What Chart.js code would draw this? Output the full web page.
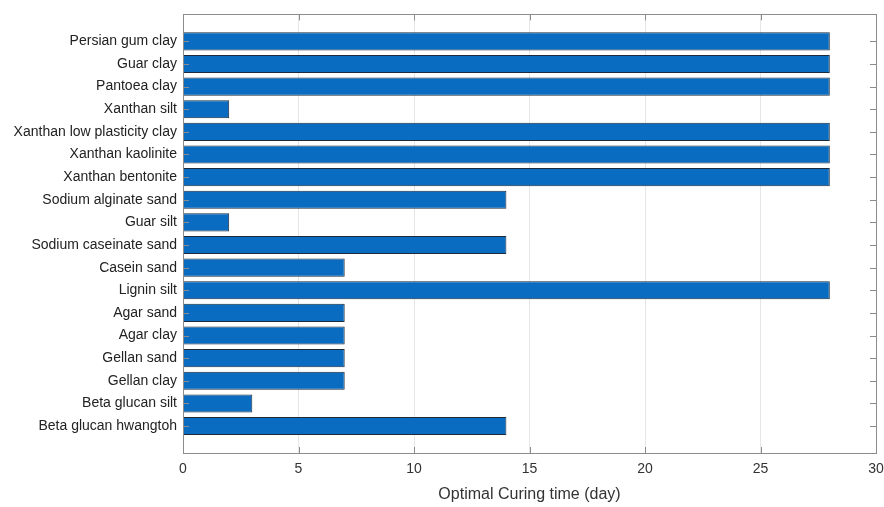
<!DOCTYPE html>
<html>
<head>
<meta charset="utf-8">
<script src="https://cdn.jsdelivr.net/npm/chart.js@4.4.0/dist/chart.umd.min.js"></script>
<style>
  html, body { margin: 0; padding: 0; background: #fff; }
  #wrap { width: 884px; height: 507px; }
</style>
</head>
<body>
<div id="wrap"><canvas id="curingChart" width="884" height="507"></canvas></div>
<script>
// Optimal curing time per biopolymer / soil pair
const categories = [
    'Persian gum clay', 'Guar clay', 'Pantoea clay', 'Xanthan silt',
    'Xanthan low plasticity clay', 'Xanthan kaolinite', 'Xanthan bentonite',
    'Sodium alginate sand', 'Guar silt', 'Sodium caseinate sand', 'Casein sand',
    'Lignin silt', 'Agar sand', 'Agar clay', 'Gellan sand', 'Gellan clay',
    'Beta glucan silt', 'Beta glucan hwangtoh'
];
const curingDays = [28, 28, 28, 2, 28, 28, 28, 14, 2, 14, 7, 28, 7, 7, 7, 7, 3, 14];
const xTicks = [0, 5, 10, 15, 20, 25, 30];

const FONT = "'Liberation Sans', Arial, sans-serif";
const AXIS_GREY = '#8c8c8c';

// MATLAB style box with inward tick marks
const boxPlugin = {
    id: 'boxPlugin',
    afterDatasetsDraw(chart) {
        const { ctx, chartArea: a, scales } = chart;
        ctx.save();
        ctx.strokeStyle = AXIS_GREY;
        ctx.lineWidth = 1;
        ctx.beginPath();
        xTicks.forEach(t => {
            const x = Math.round(scales.x.getPixelForValue(t)) + 0.5;
            ctx.moveTo(x, a.bottom); ctx.lineTo(x, a.bottom - 6);
            ctx.moveTo(x, a.top); ctx.lineTo(x, a.top + 6);
        });
        categories.forEach((c, i) => {
            const y = Math.round(scales.y.getPixelForValue(i + 1)) + 0.5;
            ctx.moveTo(a.left, y); ctx.lineTo(a.left + 6, y);
            ctx.moveTo(a.right, y); ctx.lineTo(a.right - 6, y);
        });
        ctx.stroke();
        ctx.strokeRect(Math.round(a.left) + 0.5, Math.round(a.top) + 0.5,
            Math.round(a.right - a.left), Math.round(a.bottom - a.top));
        ctx.restore();
    }
};

document.addEventListener('DOMContentLoaded', function() {
    const ctx = document.getElementById('curingChart').getContext('2d');
    new Chart(ctx, {
        type: 'bar',
        data: {
            datasets: [{
                data: curingDays.map((v, i) => ({ x: v, y: i + 1 })),
                backgroundColor: '#0a6cc0',
                borderColor: '#1c2a3a',
                borderWidth: 1,
                barPercentage: 0.8,
                categoryPercentage: 1.0
            }]
        },
        options: {
            indexAxis: 'y',
            responsive: false,
            animation: false,
            layout: { padding: { top: 12, right: 0, left: 0, bottom: 0 } },
            scales: {
                x: {
                    type: 'linear',
                    min: 0,
                    max: 30,
                    afterBuildTicks: s => { s.ticks = xTicks.map(v => ({ value: v })); },
                    afterFit: s => { s.height = 54; s.paddingRight = 8; },
                    grid: { color: '#e6e6e6', drawTicks: false },
                    border: { display: false },
                    ticks: { color: '#333', padding: 8, font: { family: FONT, size: 14 } },
                    title: {
                        display: true,
                        text: 'Optimal Curing time (day)',
                        color: '#333',
                        padding: { top: 2, bottom: 3 },
                        font: { family: FONT, size: 16 }
                    }
                },
                y: {
                    type: 'linear',
                    reverse: true,
                    offset: false,
                    min: -0.19,
                    max: 19.19,
                    afterBuildTicks: s => { s.ticks = categories.map((c, i) => ({ value: i + 1 })); },
                    afterFit: s => { s.width = 183; },
                    grid: { display: false, drawTicks: false },
                    border: { display: false },
                    ticks: {
                        color: '#222',
                        padding: 6,
                        autoSkip: false,
                        font: { family: FONT, size: 14 },
                        callback: v => categories[v - 1]
                    }
                }
            },
            plugins: {
                legend: { display: false },
                tooltip: { enabled: false }
            }
        },
        plugins: [boxPlugin]
    });
});
</script>
</body>
</html>
